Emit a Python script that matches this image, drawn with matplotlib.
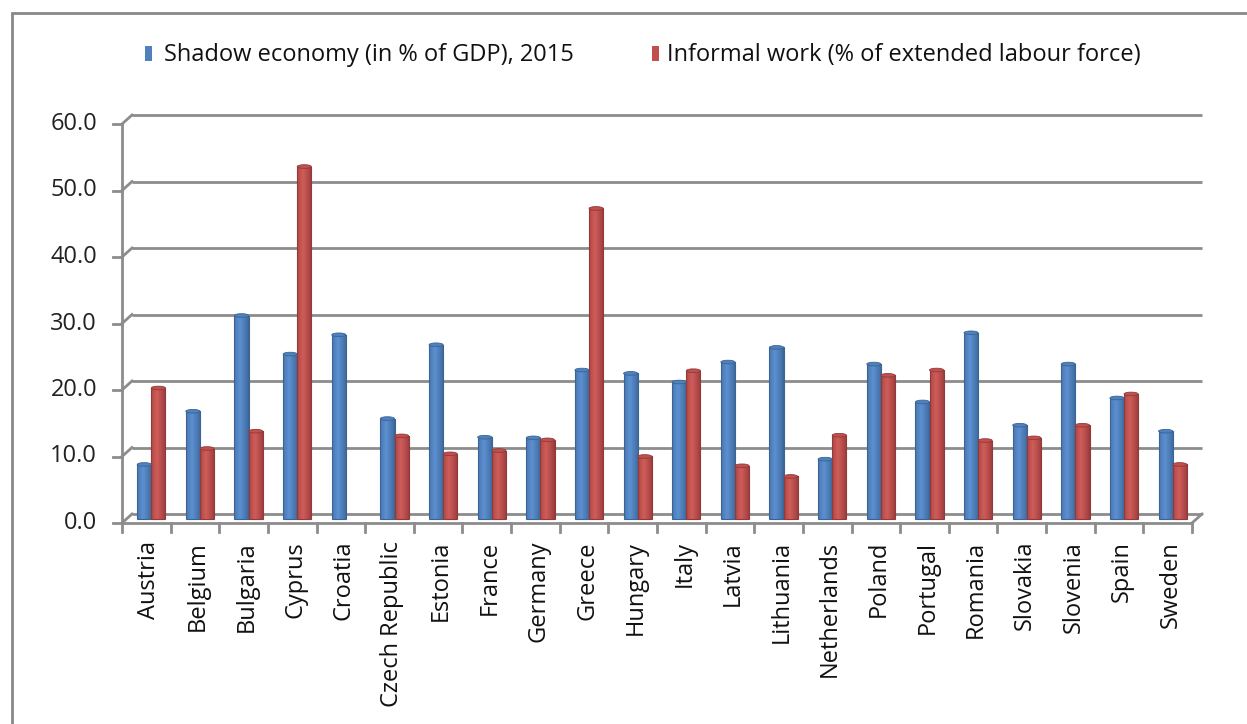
import matplotlib
matplotlib.use("Agg")
import matplotlib.pyplot as plt
import matplotlib.transforms as mtransforms
from matplotlib.patches import Rectangle, Ellipse
from matplotlib.colors import to_rgb
import numpy as np

countries = ["Austria", "Belgium", "Bulgaria", "Cyprus", "Croatia", "Czech Republic",
             "Estonia", "France", "Germany", "Greece", "Hungary", "Italy", "Latvia",
             "Lithuania", "Netherlands", "Poland", "Portugal", "Romania", "Slovakia",
             "Slovenia", "Spain", "Sweden"]
shadow = [8.2, 16.2, 30.6, 24.8, 27.7, 15.1, 26.2, 12.3, 12.2, 22.4, 21.9, 20.6,
          23.6, 25.8, 9.0, 23.3, 17.6, 28.0, 14.1, 23.3, 18.2, 13.2]
informal = [19.7, 10.6, 13.2, 53.0, 0.0, 12.5, 9.8, 10.3, 11.9, 46.7, 9.4, 22.3,
            8.0, 6.4, 12.6, 21.6, 22.4, 11.8, 12.2, 14.1, 18.8, 8.2]
yticks = [0, 10, 20, 30, 40, 50, 60]
legend_labels = ["Shadow economy (in % of GDP), 2015", "Informal work (% of extended labour force)"]

W, H = 1247, 724
DPI = 100
fig = plt.figure(figsize=(W / DPI, H / DPI), dpi=DPI)
plt.rcParams['font.family'] = ['Open Sans', 'DejaVu Sans']
FS = 17

def fx(px):
    return px / W

def fy(py):
    return 1 - py / H

# axes: front plane, x 122..1192, y 523 (0) .. 124 (60)
ax = fig.add_axes([fx(122), fy(523), fx(1192) - fx(122), fy(124) - fy(523)])
ax.axis("off")

grid_col = "#8c8c8c"
back = ax.transData + mtransforms.ScaledTranslation(10 / DPI, 9 / DPI, fig.dpi_scale_trans)
mid = ax.transData + mtransforms.ScaledTranslation(5 / DPI, 4 / DPI, fig.dpi_scale_trans)

n = len(countries)
x0, x1 = -0.5, n - 0.5
xs = np.arange(n)
bw = 0.29


def cylinder(ax, xc, val, base_col, dark_col, light_col):
    if val <= 0:
        return
    xl, xr = xc - bw / 2, xc + bw / 2
    t = np.linspace(0, 1, 64)
    prof = np.clip(1 - np.abs(t - 0.4) / 0.6, 0, 1) ** 0.8
    dark = np.array(to_rgb(dark_col))
    light = np.array(to_rgb(light_col))
    img = dark[None, :] + (light - dark)[None, :] * prof[:, None]
    img = img[None, :, :]
    rect = Rectangle((xl, 0), bw, val, transform=mid, facecolor="none", edgecolor="none")
    ax.add_patch(rect)
    im = ax.imshow(img, extent=[xl, xr, 0, val], aspect="auto", transform=mid,
                   interpolation="bilinear", zorder=3)
    im.set_clip_path(rect)
    ax.add_patch(Rectangle((xl, 0), bw, val, transform=mid, facecolor="none",
                           edgecolor=dark_col, lw=0.8, zorder=4))
    ax.add_patch(Ellipse((xc, val), bw, 0.55, transform=mid, facecolor=base_col,
                         edgecolor=dark_col, lw=0.6, zorder=5))


blue, blue_d, blue_l = "#4F81BD", "#3A6496", "#5C90D0"
red, red_d, red_l = "#C0504D", "#93393A", "#D05C58"
for i in range(n):
    cylinder(ax, xs[i] - 0.145, shadow[i], blue, blue_d, blue_l)
    cylinder(ax, xs[i] + 0.145, informal[i], red, red_d, red_l)

ax.set_xlim(x0, x1)
ax.set_ylim(0, 60)

for v in yticks:
    ax.plot([x0, x1], [v, v], color=grid_col, lw=2.0, transform=back, zorder=1,
            solid_capstyle="butt", clip_on=False)
    p_front = ax.transData.transform((x0, v))
    p_back = back.transform((x0, v))
    fig.lines.append(plt.Line2D([p_front[0] / W, p_back[0] / W], [p_front[1] / H, p_back[1] / H],
                                transform=fig.transFigure, color=grid_col, lw=2.0))
    fig.lines.append(plt.Line2D([(p_front[0] - 9) / W, p_front[0] / W], [p_front[1] / H, p_front[1] / H],
                                transform=fig.transFigure, color=grid_col, lw=2.0))
    ax.text(x0, v, f"{v:.1f}",
            transform=ax.transData + mtransforms.ScaledTranslation(-25 / DPI, 0, fig.dpi_scale_trans),
            ha="right", va="center", fontsize=FS, color="#222222")

# right floor diagonal
pf = ax.transData.transform((x1, 0))
pb = back.transform((x1, 0))
fig.lines.append(plt.Line2D([pf[0] / W, pb[0] / W], [pf[1] / H, pb[1] / H],
                            transform=fig.transFigure, color=grid_col, lw=2.0))

# front axes
ax.plot([x0, x0], [0, 60], color=grid_col, lw=2.0, zorder=6, clip_on=False)
ax.plot([x0, x1], [0, 0], color=grid_col, lw=2.0, zorder=6, clip_on=False)
for i in range(n + 1):
    p = ax.transData.transform((i - 0.5, 0))
    fig.lines.append(plt.Line2D([p[0] / W, p[0] / W], [p[1] / H, (p[1] - 9) / H],
                                transform=fig.transFigure, color=grid_col, lw=2.0))

# category labels
for i, c in enumerate(countries):
    ax.text(i, 0, c, rotation=90, ha="center", va="top", fontsize=FS, color="#111111",
            transform=ax.transData + mtransforms.ScaledTranslation(3 / DPI, -18 / DPI, fig.dpi_scale_trans))

# legend
fig.patches.append(Rectangle((fx(145), fy(61)), 7 / W, 15 / H, transform=fig.transFigure,
                             facecolor=blue, edgecolor="none"))
fig.text(fx(164), fy(55), legend_labels[0], ha="left", va="center", fontsize=FS, color="#111111")
fig.patches.append(Rectangle((fx(652), fy(61)), 7 / W, 15 / H, transform=fig.transFigure,
                             facecolor=red, edgecolor="none"))
fig.text(fx(667), fy(55), legend_labels[1], ha="left", va="center", fontsize=FS, color="#111111")

# outer border
fig.patches.append(Rectangle((fx(12), fy(740)), (W + 20) / W, (740 - 13) / H, transform=fig.transFigure,
                             facecolor="none", edgecolor="#888888", lw=2.0))

fig.savefig("out.png", dpi=DPI)
